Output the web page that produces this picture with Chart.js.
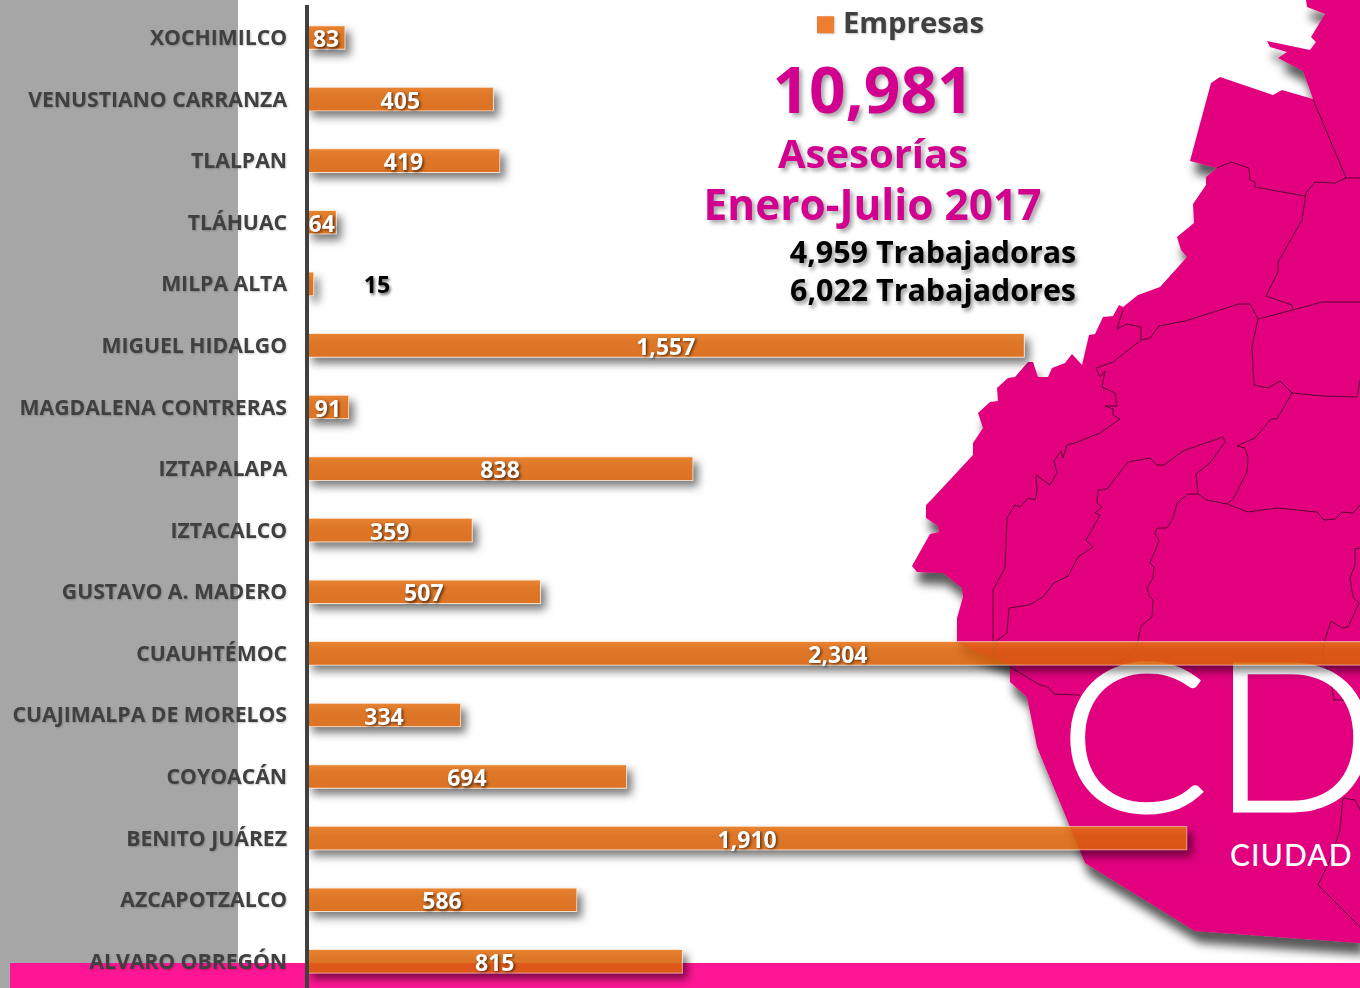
<!DOCTYPE html>
<html lang="es"><head><meta charset="utf-8">
<script src="https://cdn.jsdelivr.net/npm/chart.js@4"></script>
<style>
html,body{margin:0;padding:0;background:#fff;width:1360px;height:988px;overflow:hidden}
#stage{position:relative;width:1360px;height:988px;overflow:hidden;font-family:"Open Sans",sans-serif}
#gray{position:absolute;left:0;top:0;width:238px;height:988px;background:#a6a6a6}
#band{position:absolute;left:10px;top:963px;width:1350px;height:25px;background:#ff1694}
#map{position:absolute;left:0;top:0}
canvas{position:absolute;left:0;top:0}
.t{position:absolute;font-weight:700;white-space:nowrap;line-height:1;transform:translateX(-50%)}
.p{color:#d1008f;text-shadow:3px 3px 4px rgba(0,0,0,.35)}
.k{color:#000;font-size:30.4px;text-shadow:2px 3px 4px rgba(0,0,0,.45)}
</style></head><body>
<div id="stage">
<div id="gray"></div>
<svg id="map" width="1360" height="988" viewBox="0 0 1360 988">
<defs><filter id="ds" x="-20%" y="-20%" width="140%" height="140%"><feDropShadow dx="4" dy="12" stdDeviation="5" flood-color="#000" flood-opacity=".65"/></filter></defs>
<path filter="url(#ds)" fill="#e2067f" d="M1306 0L1307 7L1325 14L1311 37L1316 42L1310 50L1267 41L1270 47L1287 52L1278 58L1303 71L1313 99L1282 90L1273 95L1220 77L1211 83L1190 161L1217 168L1206 177L1206 185L1193 204L1194 223L1177 237L1181 250L1187 257L1160 287L1138 295L1123 307L1119 305L1113 316L1103 317L1095 334L1089 335L1082 365L1072 354L1065 363L1052 368L1048 377L1038 377L1033 362L1028 362L1015 377L1008 378L997 388L998 401L990 402L978 413L983 428L973 443L973 455L932 499L926 505L926 518L938 526L939 532L930 534L912 566L917 572L943 573L962 588L963 597L957 618L957 642L980 653L1010 665L1010 682L1027 697L1037 747L1085 863L1195 931L1360 943L1360 0Z"/>
<g fill="none" stroke="#3a0020" stroke-width=".8">
<path d="M1313 99L1346 178"/>
<path d="M1217 168L1231 162L1249 168L1250 180L1255 182L1255 187L1305 196"/>
<path d="M1360 178L1346 178L1335 183L1315 182L1306 193L1302 220L1278 262L1278 272L1266 296L1292 305L1293 310"/>
<path d="M1360 302L1322 302L1293 310L1258 319L1250 304L1239 304L1185 321L1159 326L1150 338L1141 340L1141 327L1127 324L1117 329L1123 310"/>
<path d="M1258 319L1252 347L1254 385L1268 388L1280 381L1292 393L1323 396L1357 397L1360 380"/>
<path d="M1141 340L1113 362L1096 368L1100 377L1105 371L1102 387L1115 393L1117 406L1105 406L1113 409L1113 415L1120 419L1100 433L1075 443L1067 445L1063 458L1061 451L1054 461L1057 473L1050 485L1036 475L1037 490L1035 500L1028 498L1020 507L1015 505L1007 518L1005 568L993 590L993 657"/>
<path d="M1007 633L995 642L995 657M1098 490L1097 503L1102 507L1095 513L1100 515L1086 540L1093 547L1078 557L1068 576L1054 583L1043 597L1029 605L1009 608L1007 633"/>
<path d="M1098 490L1107 489L1128 462L1150 458L1157 465L1164 465L1183 451L1223 437L1225 442L1210 463L1196 474L1198 494L1207 500L1227 504L1248 512L1277 508L1317 512L1324 520L1335 519L1342 512L1353 513L1360 505"/>
<path d="M1227 504L1233 499L1247 472L1248 457L1245 448L1237 446L1255 438L1271 419L1277 419L1292 393"/>
<path d="M1198 494L1188 494L1177 503L1173 518L1167 528L1157 528L1155 533L1159 541L1150 563L1154 567L1153 578L1147 588L1150 597L1153 600L1152 617L1141 626L1137 645L1133 653L1113 665"/>
<path d="M1010 667L1040 685L1048 687L1054 694L1080 695"/>
<path d="M1360 548L1355 549L1355 565L1350 578L1353 597L1359 603L1348 627L1342 628L1331 621L1324 643L1322 653L1330 678L1334 700L1360 700"/>
<path d="M1360 810L1355 800L1343 798L1340 830L1330 860L1318 885L1360 927"/>
</g>
<g fill="#fff">
<text transform="translate(1059,811) scale(1.07,1)" font-family="Lato" font-weight="300" font-size="207" stroke="#fff" stroke-width="3">C</text>
<text transform="translate(1211.4,811) scale(1.07,1)" font-family="Lato" font-weight="300" font-size="207" stroke="#fff" stroke-width="3">D</text>
<text x="1230" y="866" font-family="Lato" font-weight="500" font-size="30" letter-spacing="1.1">CIUDAD</text>
</g>
</svg>
<div id="band"></div>
<canvas id="c" width="1413" height="1000" style="width:1413px;height:1000px"></canvas>
<div class="t p" style="left:873px;top:57px;font-size:64px">10,981</div>
<div class="t p" style="left:873px;top:133px;font-size:40px">Asesorías</div>
<div class="t p" style="left:872.5px;top:183px;font-size:42.4px">Enero-Julio 2017</div>
<div class="t k" style="left:933px;top:237px">4,959 Trabajadoras</div>
<div class="t k" style="left:933px;top:275px">6,022 Trabajadores</div>
</div>
<script>
const categories = ["XOCHIMILCO","VENUSTIANO CARRANZA","TLALPAN","TLÁHUAC","MILPA ALTA","MIGUEL HIDALGO","MAGDALENA CONTRERAS","IZTAPALAPA","IZTACALCO","GUSTAVO A. MADERO","CUAUHTÉMOC","CUAJIMALPA DE MORELOS","COYOACÁN","BENITO JUÁREZ","AZCAPOTZALCO","ALVARO OBREGÓN"];
const empresas = [83,405,419,64,15,1557,91,838,359,507,2304,334,694,1910,586,815];
const seriesName = "Empresas";

const barShadow = {
  id:"barShadow",
  beforeDraw(ch){const c=ch.ctx;c.save();c.shadowColor="rgba(0,0,0,.22)";c.shadowBlur=2;c.shadowOffsetX=1;c.shadowOffsetY=1;},
  beforeDatasetsDraw(ch){
    const c=ch.ctx;c.restore();
    const els=ch.getDatasetMeta(0).data;
    els.forEach(e=>{
      const p=e.getProps(["x","y","base","height"]);
      const x0=p.base,y0=p.y-p.height/2,w=p.x-p.base,h=p.height;
      c.save();
      c.beginPath();c.rect(0,0,ch.width,ch.height);c.rect(x0,y0,w,h);c.clip("evenodd");
      c.shadowColor="rgba(0,0,0,.52)";c.shadowBlur=8;c.shadowOffsetX=5+5000;c.shadowOffsetY=6;
      c.fillStyle="#000";c.fillRect(x0-5000,y0,w,h);
      c.restore();
    });
  },
  afterDatasetsDraw(ch){
    const c=ch.ctx;
    ch.getDatasetMeta(0).data.forEach((e,i)=>{
      const v=empresas[i],small=v<30;
      const txt=v.toLocaleString("en-US");
      c.save();
      c.font='700 23px "Open Sans"';c.textAlign="center";c.textBaseline="middle";
      c.shadowColor="rgba(0,0,0,.6)";c.shadowBlur=3;c.shadowOffsetX=1.5;c.shadowOffsetY=1.5;
      if(small){c.fillStyle="#000";c.fillText(txt,e.x+63,e.y+3);}
      else{c.fillStyle="#fff";c.fillText(txt,(e.base+e.x)/2,e.y+3);}
      c.restore();
    });
  },
  afterLayout(ch){
    const l=ch.legend;const w=l.width;
    l.left=810.75;l.right=810.75+w;l.top=-2;l.bottom=-2+l.height;
  }
};

new Chart(document.getElementById("c"),{
  type:"bar",
  data:{labels:categories,datasets:[{label:seriesName,data:empresas,
    barThickness:24,
    borderWidth:1,
    borderColor:"rgba(255,225,200,.7)",
    backgroundColor(ctx){
      const ch=ctx.chart;
      if(ctx.type!=="data"||!ch.scales.y) return "#ed7d31";
      const y=ch.scales.y.getPixelForValue(ctx.dataIndex);
      const g=ch.ctx.createLinearGradient(0,y-12,0,y+12);
      g.addColorStop(0,"rgba(230,116,22,.88)");
      g.addColorStop(.35,"rgba(218,100,10,.88)");
      g.addColorStop(1,"rgba(216,96,6,.88)");
      return g;
    }
  }]},
  options:{
    indexAxis:"y",responsive:false,animation:false,
    layout:{padding:{top:6.7,bottom:7.9,left:0,right:0}},
    scales:{
      x:{display:false,min:0,max:2400,grid:{display:false}},
      y:{
        afterFit(s){s.width=307;s.paddingTop=0;s.paddingBottom=0;},
        grid:{display:false,drawTicks:false},
        border:{display:true,color:"#404040",width:4,z:1},
        ticks:{autoSkip:false,padding:20,labelOffset:1.5,color:"#404040",font:{family:'"Open Sans"',size:21.2,weight:"700"}}
      }
    },
    plugins:{
      tooltip:{enabled:false},
      legend:{position:"chartArea",align:"start",
        labels:{boxWidth:5.5,boxHeight:5.5,padding:12,color:"#404040",font:{family:'"Open Sans"',size:29.3,weight:"700"},
          generateLabels(){return [{text:seriesName,fillStyle:"#ed7d31",fontColor:"#404040",strokeStyle:"#ed7d31",lineWidth:11.5,hidden:false,datasetIndex:0}];}}
      }
    }
  },
  plugins:[barShadow]
});
</script>
</body></html>
